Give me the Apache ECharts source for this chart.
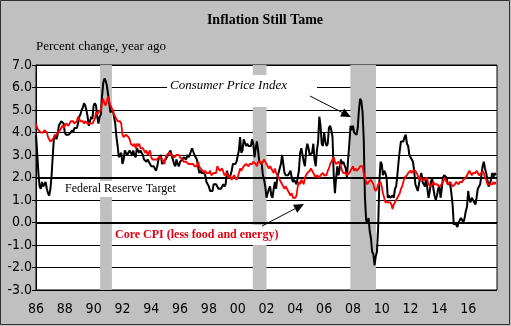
<!DOCTYPE html>
<html><head><meta charset="utf-8">
<script src="https://cdn.jsdelivr.net/npm/echarts@6/dist/echarts.min.js"></script>
<style>html,body{margin:0;padding:0;background:#c0c0c0}#c{width:511px;height:326px}</style>
</head><body><div id="c"></div>
<script>
// Monthly data, Jan 1986 .. Dec 2017 (percent change, year ago)
var startYear = 1986;
var cpi = [
 3.9,3.1,2.2,1.6,1.5,1.8,1.6,1.6,1.8,1.5,1.3,1.2, // 1986
 1.5,2.1,3.0,3.8,3.9,3.7,3.9,4.3,4.4,4.5,4.5,4.4, // 1987
 4.0,3.9,3.9,3.9,3.9,4.0,4.1,4.0,4.2,4.2,4.2,4.4, // 1988
 4.7,4.8,5.0,5.1,5.3,5.2,5.0,4.7,4.3,4.5,4.7,4.6, // 1989
 5.2,5.3,5.2,4.7,4.4,4.7,4.8,5.6,6.2,6.4,6.3,6.1, // 1990
 5.7,5.3,4.9,4.9,5.0,4.7,4.4,3.8,3.4,2.9,3.0,3.1, // 1991
 2.6,2.8,3.2,3.2,3.0,3.1,3.2,3.1,3.0,3.2,3.0,2.9, // 1992
 3.3,3.2,3.1,3.2,3.2,3.0,2.8,2.8,2.7,2.8,2.7,2.7, // 1993
 2.5,2.5,2.5,2.4,2.3,2.5,2.8,2.9,3.0,2.6,2.7,2.7, // 1994
 2.8,2.9,2.9,3.1,3.2,3.0,2.8,2.6,2.5,2.8,2.6,2.5, // 1995
 2.7,2.7,2.8,2.9,2.9,2.8,3.0,2.9,3.0,3.0,3.3,3.3, // 1996
 3.0,3.0,2.8,2.5,2.2,2.3,2.2,2.2,2.2,2.1,1.8,1.7, // 1997
 1.6,1.4,1.4,1.4,1.7,1.7,1.7,1.6,1.5,1.5,1.5,1.6, // 1998
 1.7,1.6,1.7,2.3,2.1,2.0,2.1,2.3,2.6,2.6,2.6,2.7, // 1999
 2.7,3.2,3.8,3.1,3.2,3.7,3.7,3.4,3.5,3.4,3.4,3.4, // 2000
 3.7,3.5,2.9,3.3,3.6,3.2,2.7,2.7,2.6,2.1,1.9,1.6, // 2001
 1.1,1.1,1.5,1.6,1.2,1.1,1.5,1.8,1.5,2.0,2.2,2.4, // 2002
 2.6,3.0,3.0,2.2,2.1,2.1,2.1,2.2,2.3,2.0,1.8,1.9, // 2003
 1.9,1.7,1.7,2.3,3.1,3.3,3.0,2.7,2.5,3.2,3.5,3.3, // 2004
 3.0,3.0,3.1,3.5,2.8,2.5,3.2,3.6,4.7,4.3,3.5,3.4, // 2005
 4.0,3.6,3.4,3.5,4.2,4.3,4.1,3.8,2.1,1.3,2.0,2.5, // 2006
 2.1,2.4,2.8,2.6,2.7,2.7,2.4,2.0,2.8,3.5,4.3,4.1, // 2007
 4.3,4.0,4.0,3.9,4.2,5.0,5.5,5.4,4.9,3.7,1.1,0.1, // 2008
 0.0,0.2,-0.4,-0.7,-1.3,-1.4,-1.9,-1.5,-1.3,-0.2,1.8,2.7, // 2009
 2.6,2.1,2.3,2.2,2.0,1.1,1.2,1.1,1.1,1.2,1.1,1.5, // 2010
 1.6,2.1,2.7,3.2,3.6,3.6,3.6,3.8,3.9,3.5,3.4,3.0, // 2011
 2.9,2.9,2.7,2.3,1.7,1.7,1.4,1.7,2.0,2.2,1.8,1.7, // 2012
 1.6,2.0,1.5,1.1,1.4,1.8,2.0,1.5,1.2,1.0,1.2,1.5, // 2013
 1.6,1.1,1.5,2.0,2.1,2.1,2.0,1.7,1.7,1.7,1.3,0.8, // 2014
 -0.1,0.0,-0.1,-0.2,0.0,0.1,0.2,0.2,0.0,0.2,0.5,0.7, // 2015
 1.4,1.0,0.9,1.1,1.0,1.0,0.8,1.1,1.5,1.6,1.7,2.1, // 2016
 2.5,2.7,2.4,2.2,1.9,1.6,1.7,1.9,2.2,2.0,2.2,2.1  // 2017
];
var core = [
 4.4,4.2,4.1,4.1,4.0,4.0,4.0,4.1,4.1,4.0,3.8,3.7, // 1986
 3.6,3.6,3.7,3.8,3.8,3.9,4.0,4.0,4.1,4.2,4.3,4.2, // 1987
 4.3,4.4,4.4,4.3,4.4,4.5,4.5,4.5,4.4,4.4,4.5,4.7, // 1988
 4.6,4.5,4.5,4.5,4.4,4.5,4.5,4.4,4.4,4.4,4.4,4.4, // 1989
 4.4,4.6,4.9,4.8,4.9,4.9,5.0,5.3,5.5,5.3,5.2,5.2, // 1990
 5.6,5.6,5.2,5.1,5.1,4.8,4.7,4.6,4.5,4.5,4.5,4.4, // 1991
 3.9,3.8,3.8,3.9,3.9,3.8,3.7,3.5,3.5,3.4,3.5,3.3, // 1992
 3.5,3.4,3.5,3.3,3.3,3.3,3.3,3.1,3.2,3.0,3.0,3.2, // 1993
 2.9,2.8,2.8,2.8,2.8,2.8,2.9,2.9,2.9,2.8,2.8,2.6, // 1994
 2.9,3.0,3.0,3.1,3.1,3.0,3.0,2.9,2.9,3.0,3.0,3.0, // 1995
 2.9,2.9,2.8,2.7,2.7,2.7,2.7,2.6,2.6,2.6,2.6,2.6, // 1996
 2.5,2.5,2.5,2.7,2.5,2.4,2.4,2.3,2.2,2.3,2.2,2.2, // 1997
 2.2,2.3,2.1,2.1,2.2,2.2,2.2,2.5,2.5,2.3,2.3,2.4, // 1998
 2.4,2.1,2.1,2.2,2.0,2.1,2.1,1.9,2.0,2.1,2.1,1.9, // 1999
 2.0,2.2,2.4,2.3,2.4,2.5,2.5,2.6,2.6,2.5,2.6,2.6, // 2000
 2.6,2.7,2.7,2.6,2.5,2.7,2.7,2.7,2.6,2.6,2.8,2.7, // 2001
 2.6,2.6,2.4,2.5,2.5,2.3,2.2,2.4,2.2,2.2,2.0,1.9, // 2002
 1.9,1.7,1.7,1.5,1.6,1.5,1.5,1.3,1.2,1.3,1.1,1.1, // 2003
 1.1,1.2,1.6,1.8,1.7,1.9,1.8,1.7,2.0,2.0,2.2,2.2, // 2004
 2.3,2.4,2.3,2.2,2.2,2.0,2.1,2.1,2.0,2.1,2.1,2.2, // 2005
 2.1,2.1,2.1,2.3,2.4,2.6,2.7,2.8,2.9,2.7,2.6,2.6, // 2006
 2.7,2.7,2.5,2.3,2.2,2.2,2.2,2.1,2.1,2.2,2.3,2.4, // 2007
 2.5,2.3,2.4,2.3,2.3,2.4,2.5,2.5,2.5,2.2,2.0,1.8, // 2008
 1.7,1.8,1.8,1.9,1.8,1.7,1.5,1.4,1.5,1.7,1.7,1.8, // 2009
 1.6,1.3,1.1,0.9,0.9,0.9,0.9,0.9,0.8,0.6,0.8,0.8, // 2010
 1.0,1.1,1.2,1.3,1.5,1.6,1.8,2.0,2.0,2.1,2.2,2.2, // 2011
 2.3,2.2,2.3,2.3,2.3,2.2,2.1,1.9,2.0,2.0,1.9,1.9, // 2012
 1.9,2.0,1.9,1.7,1.7,1.6,1.7,1.8,1.7,1.7,1.7,1.7, // 2013
 1.6,1.6,1.7,1.8,2.0,1.9,1.9,1.7,1.7,1.8,1.7,1.6, // 2014
 1.6,1.7,1.8,1.8,1.7,1.8,1.8,1.8,1.9,1.9,2.0,2.1, // 2015
 2.2,2.3,2.2,2.1,2.2,2.2,2.2,2.3,2.2,2.1,2.1,2.2, // 2016
 2.3,2.2,2.0,1.9,1.7,1.7,1.7,1.7,1.7,1.8,1.7,1.8  // 2017
];
// Recession shading (decimal years)
var recStart = [1990.45, 2001.05, 2007.82];
var recEnd   = [1991.27, 2002.0, 2009.6];
// Reference lines
var refLines = [0, 2];
var yTicks = { min: -3, max: 7, step: 1 };
var xTicks = { min: 1986, max: 2018, step: 2 };

function toPairs(arr) {
  return arr.map(function (v, i) { return [startYear + i / 12, v]; });
}

var chart = echarts.init(document.getElementById('c'), null, { renderer: 'canvas' });

function arrow(x1, y1, x2, y2) {
  var dx = x2 - x1, dy = y2 - y1, L = Math.sqrt(dx * dx + dy * dy);
  var ux = dx / L, uy = dy / L, hl = 10, hw = 4.5;
  var bx = x2 - ux * hl, by = y2 - uy * hl;
  return [
    { type: 'line', z: 20, shape: { x1: x1, y1: y1, x2: bx, y2: by }, style: { stroke: '#000', lineWidth: 1 } },
    { type: 'polygon', z: 20, shape: { points: [[x2, y2], [bx - uy * hw, by + ux * hw], [bx + uy * hw, by - ux * hw]] }, style: { fill: '#000' } }
  ];
}

var serif = '"Liberation Serif","Times New Roman",serif';
var graphics = [
  { type: 'rect', z: 0, silent: true, shape: { x: 0.5, y: 0.5, width: 509, height: 324 }, style: { fill: null, stroke: '#303030', lineWidth: 1 } },
  { type: 'text', z: 20, style: { text: 'Inflation Still Tame', x: 265, y: 20, align: 'center', verticalAlign: 'middle', font: 'bold 14px ' + serif, fill: '#000' } },
  { type: 'text', z: 20, style: { text: 'Percent change, year ago', x: 36, y: 47, verticalAlign: 'middle', font: '13px ' + serif, fill: '#000' } },
  { type: 'rect', z: 5, shape: { x: 167, y: 75, width: 150, height: 32 }, style: { fill: '#fff' } },
  { type: 'text', z: 20, style: { text: 'Consumer Price Index', x: 170, y: 86, verticalAlign: 'middle', font: 'italic 13px ' + serif, fill: '#000' } },
  { type: 'rect', z: 5, shape: { x: 60, y: 181, width: 116, height: 16 }, style: { fill: '#fff' } },
  { type: 'text', z: 20, style: { text: 'Federal Reserve Target', x: 65, y: 189, verticalAlign: 'middle', font: '12px ' + serif, fill: '#000' } },
  { type: 'rect', z: 5, shape: { x: 113, y: 225, width: 172, height: 20 }, style: { fill: '#fff' } },
  { type: 'text', z: 20, style: { text: 'Core CPI (less food and energy)', x: 115, y: 235, verticalAlign: 'middle', font: 'bold 12px ' + serif, fill: '#e00010' } }
].concat(arrow(310, 96, 351, 117)).concat(arrow(262, 226, 304, 204));

var axisFont = '"Liberation Sans Narrow","DejaVu Sans Condensed","Liberation Sans",sans-serif';

chart.setOption({
  animation: false,
  backgroundColor: '#c0c0c0',
  grid: { left: 36, right: 14, top: 65, bottom: 36, show: true, backgroundColor: '#fff', borderColor: '#000', borderWidth: 1 },
  xAxis: {
    type: 'value', min: xTicks.min, max: xTicks.max, interval: xTicks.step,
    axisLine: { show: true, lineStyle: { color: '#000', width: 1 } },
    axisTick: { show: false },
    splitLine: { show: false },
    axisLabel: {
      showMaxLabel: false, margin: 12, color: '#000', fontSize: 14, fontFamily: axisFont,
      formatter: function (v) { var s = String(Math.round(v) % 100); return s.length < 2 ? '0' + s : s; }
    }
  },
  yAxis: {
    type: 'value', min: yTicks.min, max: yTicks.max, interval: yTicks.step,
    axisLine: { show: true, lineStyle: { color: '#000', width: 1 } },
    axisTick: { show: true, length: 4, lineStyle: { color: '#000' } },
    splitLine: { show: true, lineStyle: { color: '#000', width: 1 } },
    axisLabel: { margin: 4, color: '#000', fontSize: 14, fontFamily: axisFont, formatter: function (v) { return v.toFixed(1); } }
  },
  graphic: graphics,
  series: [
    {
      name: 'recessions', type: 'line', data: [], z: 1, silent: true,
      markArea: {
        silent: true, itemStyle: { color: '#c0c0c0', opacity: 1 },
        data: recStart.map(function (s, i) { return [{ xAxis: s, yAxis: yTicks.max }, { xAxis: recEnd[i], yAxis: yTicks.min }]; })
      }
    },
    {
      name: 'refs', type: 'line', data: [], z: 6, silent: true,
      markLine: {
        silent: true, symbol: ['none', 'none'], label: { show: false },
        lineStyle: { color: '#000', width: 2, type: 'solid' },
        data: refLines.map(function (v) { return { yAxis: v }; })
      }
    },
    {
      name: 'Consumer Price Index', type: 'line', z: 10, data: toPairs(cpi), showSymbol: false,
      lineStyle: { color: '#000', width: 2 }, itemStyle: { color: '#000' }
    },
    {
      name: 'Core CPI (less food and energy)', type: 'line', z: 11, data: toPairs(core), showSymbol: false,
      lineStyle: { color: '#ff0000', width: 1.8 }, itemStyle: { color: '#ff0000' }
    }
  ]
});
</script>
</body></html>
